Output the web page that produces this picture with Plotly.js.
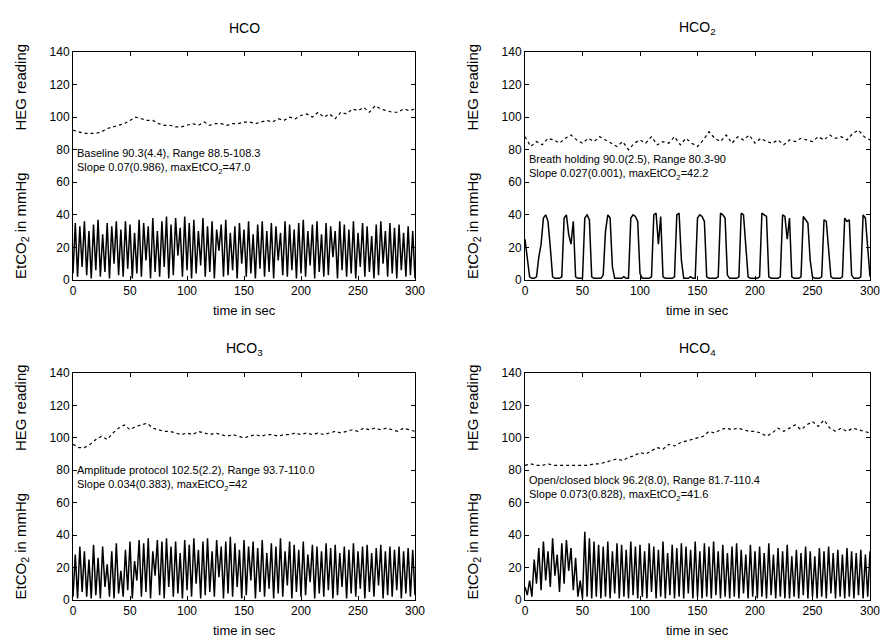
<!DOCTYPE html>
<html><head><meta charset="utf-8">
<script src="https://cdn.plot.ly/plotly-3.0.1.min.js"></script>
<style>body{margin:0;background:#fff}#chart{width:884px;height:642px}</style>
</head><body><div id="chart"></div>
<script>
// Sample grids (seconds)
const etStep = 2, hegStep = 5;

const titles = ["HCO", "HCO<sub>2</sub>", "HCO<sub>3</sub>", "HCO<sub>4</sub>"];
const notes = [
  "Baseline 90.3(4.4), Range 88.5-108.3<br>Slope 0.07(0.986), maxEtCO<sub>2</sub>=47.0",
  "Breath holding 90.0(2.5), Range 80.3-90<br>Slope 0.027(0.001), maxEtCO<sub>2</sub>=42.2",
  "Amplitude protocol 102.5(2.2), Range 93.7-110.0<br>Slope 0.034(0.383), maxEtCO<sub>2</sub>=42",
  "Open/closed block 96.2(8.0), Range 81.7-110.4<br>Slope 0.073(0.828), maxEtCO<sub>2</sub>=41.6"
];
const noteY = [73, 69, 75, 69];
const xTicks = [0, 50, 100, 150, 200, 250, 300];
const yTicks = [0, 20, 40, 60, 80, 100, 120, 140];

// HEG readings, every 5 s
const heg1 = [92,91,90,90,90,91,93,94,95,96,98,100,99,98,98,96,95,95,94,94,95,96,95,97,95,96,96,95,96,96,97,97,96,97,98,97,99,98,100,99,101,102,100,103,100,102,99,103,102,105,104,106,103,107,105,104,103,103,105,104,105];
const heg2 = [88,82,85,83,87,86,84,87,89,86,84,87,85,88,86,84,82,85,80,84,86,84,88,83,85,84,88,83,87,84,82,86,91,87,85,89,84,88,86,89,84,87,85,84,86,83,86,85,87,86,85,88,86,89,87,88,86,90,92,88,86];
const heg3 = [96,94,94,96,99,101,99,103,106,108,105,107,108,109,106,105,104,104,103,102,103,102,104,103,102,103,102,101,102,101,100,101,102,101,102,102,101,102,102,103,102,103,102,103,102,103,104,103,104,105,104,106,105,106,105,106,105,104,106,105,104];
const heg4 = [83,84,83,83,84,83,83,83,83,83,83,83,84,84,85,86,87,86,88,89,91,90,92,94,93,96,95,97,98,99,100,101,104,103,105,106,105,106,105,104,104,103,101,103,106,104,106,108,105,108,110,107,111,106,104,106,104,106,105,104,103];

// End-tidal CO2, every 2 s
const et1 = [4,35,2,33,8,36,3,30,1,34,6,37,2,28,5,35,1,33,10,36,
  3,31,2,36,7,34,1,29,4,37,2,35,12,33,1,38,5,30,2,36,
  8,39,1,34,3,38,15,32,2,39,6,35,1,37,4,30,9,38,2,33,
  5,36,1,31,18,34,2,37,3,29,6,33,1,35,10,31,2,36,4,28,
  1,34,7,36,2,30,5,35,1,33,12,29,3,36,2,34,6,31,1,35,
  4,37,2,30,9,34,1,36,5,28,2,35,3,33,14,30,1,36,6,34,
  2,31,4,36,1,29,8,35,2,33,5,27,1,34,3,36,10,30,2,35,
  4,32,1,34,6,29,2,33,3,30,1];
const et2 = [25,12,2,1,1,2,14,22,38,40,
  36,20,2,1,1,1,2,38,40,28,
  22,36,2,1,1,1,38,40,37,2,
  1,1,1,1,3,30,40,38,8,1,
  1,1,1,2,1,1,38,40,39,36,
  4,1,1,1,1,2,40,41,22,39,
  2,1,1,1,1,2,40,41,12,1,
  1,1,2,1,1,38,40,39,36,2,
  1,1,1,1,2,41,40,38,3,1,
  1,1,1,2,41,40,22,2,1,1,
  1,1,2,41,40,39,2,1,1,1,
  1,2,40,39,25,38,2,1,1,1,
  2,39,37,35,12,2,1,1,1,2,
  37,36,18,2,1,1,1,1,2,38,
  36,37,3,1,1,1,2,40,38,20,
  2];
const et3 = [2,28,1,33,5,30,2,25,1,34,
  3,26,1,33,8,22,2,30,1,35,
  4,18,2,31,6,36,1,24,12,37,
  2,35,5,38,1,30,15,37,3,36,
  1,38,8,33,2,36,4,29,1,37,
  6,34,2,38,10,31,1,36,3,38,
  5,30,2,37,14,33,1,36,4,39,
  2,35,8,31,1,37,3,33,12,36,
  1,32,5,37,2,29,7,35,1,33,
  4,38,2,30,9,36,1,34,5,31,
  2,36,3,28,11,34,1,33,4,30,
  2,35,6,32,1,34,3,29,8,33,
  1,31,4,35,2,30,7,33,1,34,
  5,29,2,32,9,34,1,30,3,33,
  2,31,6,33,1,30,4,32,2,31,
  3];
const et4 = [8,3,12,2,25,10,32,6,36,12,
  30,8,38,15,28,5,35,10,37,18,
  32,6,26,2,12,1,42,2,38,1,
  36,2,34,1,33,2,36,1,30,4,
  35,1,34,2,31,1,36,3,33,1,
  34,2,30,1,35,5,33,1,31,2,
  36,1,29,3,34,1,32,2,35,1,
  33,4,31,1,36,2,30,1,35,2,
  33,1,36,3,30,1,34,2,29,1,
  33,2,35,1,31,4,28,1,34,2,
  30,1,33,2,29,1,35,3,28,1,
  32,2,30,1,34,1,27,2,31,1,
  29,3,33,1,30,2,27,1,32,2,
  30,1,33,4,29,1,31,2,28,1,
  32,2,30,1,29,3,31,1,28,2,
  30];

const hegSets = [heg1, heg2, heg3, heg4];
const etSets = [et1, et2, et3, et4];

const xDom = [[73/884, 415/884], [525/884, 870/884]];
const yDom = [[1-280/642, 1-52/642], [1-600/642, 1-373/642]];
const FONT = "Liberation Sans, Arial, sans-serif";

const data = [];
const layout = {
  width: 884, height: 642, margin: {l:0, r:0, t:0, b:0},
  paper_bgcolor: "#fff", plot_bgcolor: "#fff", showlegend: false,
  font: {family: FONT, color: "#000", size: 12},
  annotations: []
};

for (let i = 0; i < 4; i++) {
  const col = i % 2, row = Math.floor(i / 2);
  const n = i + 1, xa = "x" + (n === 1 ? "" : n), ya = "y" + (n === 1 ? "" : n);
  const tE = etSets[i].map((_, k) => k * etStep);
  const tH = hegSets[i].map((_, k) => k * hegStep);
  data.push({x: tE, y: etSets[i], xaxis: xa, yaxis: ya, type: "scatter", mode: "lines",
    line: {color: "#000", width: 1.5}, hoverinfo: "skip"});
  data.push({x: tH, y: hegSets[i], xaxis: xa, yaxis: ya, type: "scatter", mode: "lines",
    line: {color: "#000", width: 1.2, dash: "dot"}, hoverinfo: "skip"});
  const axCommon = {showgrid: false, zeroline: false, showline: true, linecolor: "#000", linewidth: 1,
    mirror: "ticks", ticks: "inside", ticklen: 4, tickcolor: "#000", tickfont: {size: 12, color: "#000"}};
  layout["xaxis" + (n === 1 ? "" : n)] = Object.assign({}, axCommon, {
    domain: xDom[col], range: [0, 300], tickvals: xTicks, anchor: ya});
  layout["yaxis" + (n === 1 ? "" : n)] = Object.assign({}, axCommon, {
    domain: yDom[row], range: [0, 140], tickvals: yTicks, anchor: xa});
  const cx = (xDom[col][0] + xDom[col][1]) / 2;
  const top = yDom[row][1], bot = yDom[row][0];
  layout.annotations.push({text: titles[i], xref: "paper", yref: "paper", x: cx, y: top + 24/642,
    xanchor: "center", yanchor: "middle", showarrow: false, font: {size: 14}});
  layout.annotations.push({text: "time in sec", xref: "paper", yref: "paper", x: cx, y: bot - 30/642,
    xanchor: "center", yanchor: "middle", showarrow: false, font: {size: 13}});
  layout.annotations.push({text: "EtCO<sub>2</sub> in mmHg          HEG reading", xref: "paper", yref: "paper",
    x: xDom[col][0] - 52/884, y: (top + bot) / 2 + 4/642, textangle: -90,
    xanchor: "center", yanchor: "middle", showarrow: false, font: {size: 15}});
  layout.annotations.push({text: notes[i], xref: xa, yref: ya, x: 2, y: noteY[i],
    xanchor: "left", yanchor: "middle", align: "left", showarrow: false, font: {size: 11}});
}

Plotly.newPlot("chart", data, layout, {staticPlot: true});
</script></body></html>
